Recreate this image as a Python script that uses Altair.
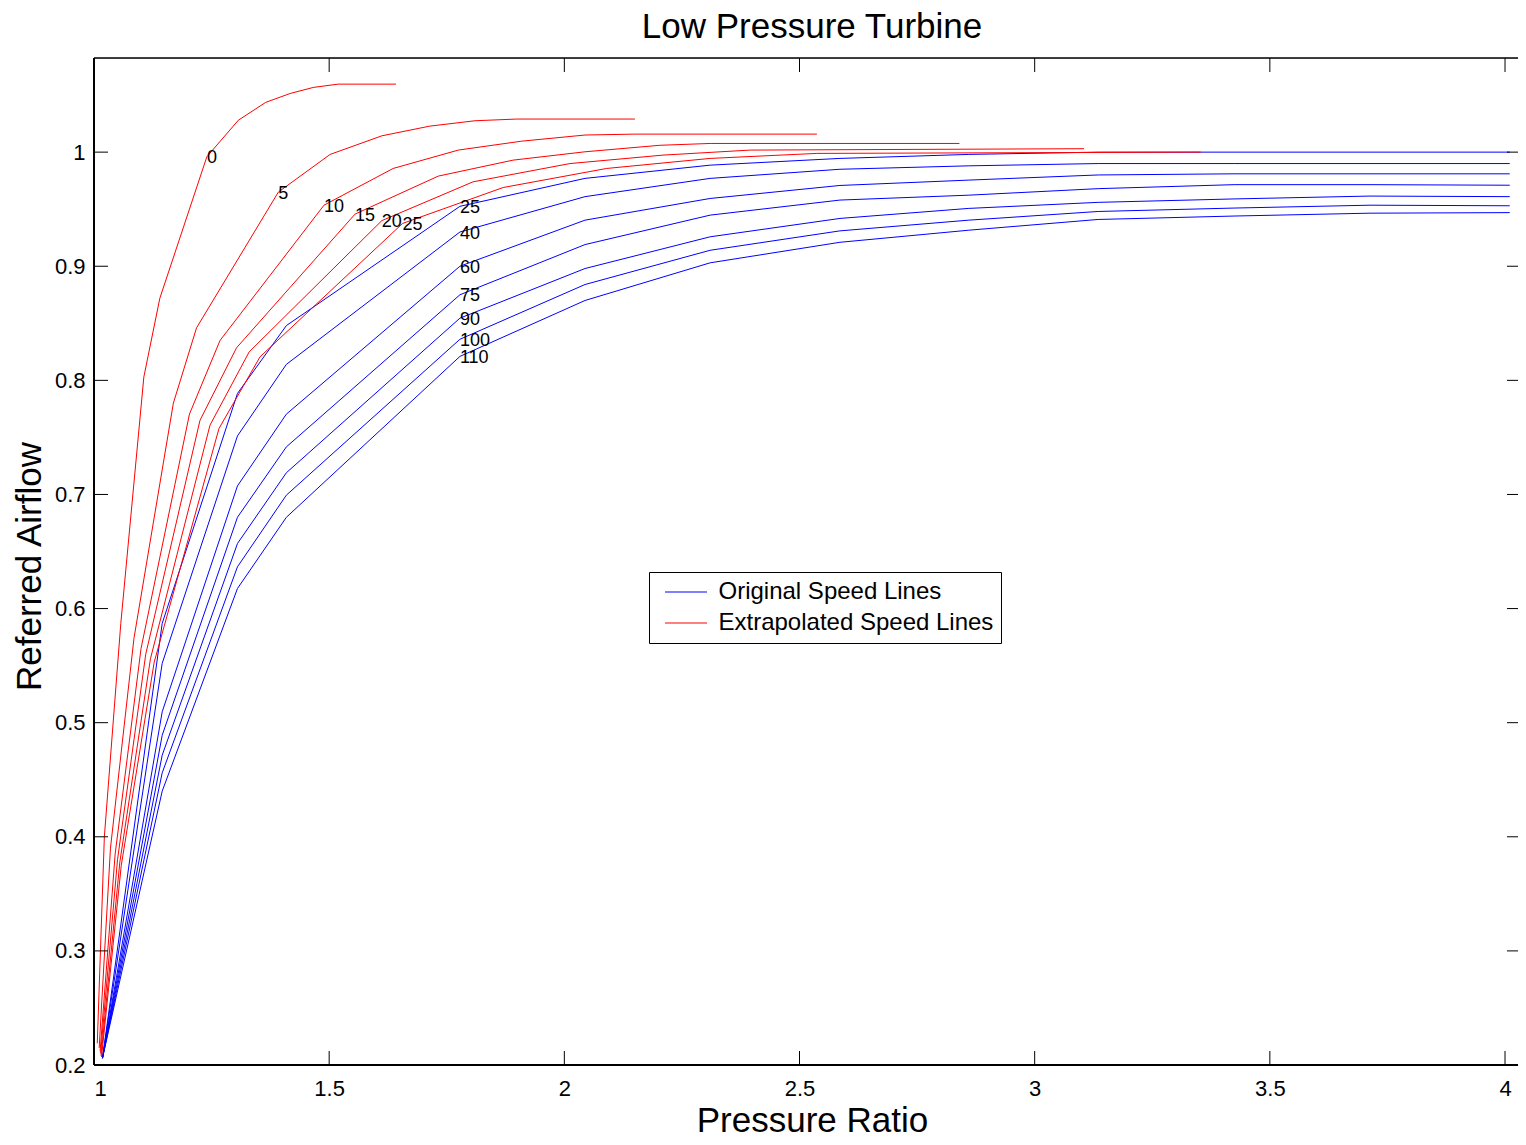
import altair as alt
import pandas as pd

FONT = "Liberation Sans"

# ---------------- data ----------------
blue_speeds = [25, 40, 60, 75, 90, 100, 110]
blue_pr = [1.018, 1.145, 1.305, 1.409, 1.778, 2.044, 2.31, 2.586, 2.86, 3.135, 3.424, 3.713, 4.01]
blue_flow_25 = [0.206, 0.587, 0.7885, 0.848, 0.9525, 0.977, 0.9886, 0.9945, 0.998, 1.0, 1.0, 1.0, 1.0]
blue_flow_40 = [0.206, 0.552, 0.7513, 0.814, 0.930, 0.961, 0.977, 0.985, 0.988, 0.990, 0.990, 0.990, 0.990]
blue_flow_60 = [0.206, 0.5095, 0.7075, 0.7704, 0.900, 0.9404, 0.9594, 0.9708, 0.9755, 0.980, 0.981, 0.981, 0.981]
blue_flow_75 = [0.206, 0.489, 0.680, 0.7417, 0.875, 0.919, 0.9448, 0.958, 0.9623, 0.968, 0.9715, 0.9715, 0.971]
blue_flow_90 = [0.206, 0.4715, 0.657, 0.719, 0.8545, 0.898, 0.9258, 0.9419, 0.9507, 0.956, 0.959, 0.9615, 0.961]
blue_flow_100 = [0.206, 0.456, 0.6366, 0.6994, 0.836, 0.884, 0.914, 0.931, 0.9404, 0.948, 0.951, 0.9535, 0.953]
blue_flow_110 = [0.206, 0.440, 0.6176, 0.680, 0.821, 0.870, 0.903, 0.921, 0.9316, 0.941, 0.944, 0.9465, 0.947]
blue_label_point = 4

red_speeds = [0, 5, 10, 15, 20, 25]
red_pr_0 = [1.007, 1.022, 1.057, 1.106, 1.140, 1.240, 1.307, 1.365, 1.417, 1.466, 1.519, 1.642]
red_flow_0 = [0.219, 0.40, 0.587, 0.803, 0.872, 0.996, 1.028, 1.0436, 1.0514, 1.0567, 1.0596, 1.0596]
red_pr_5 = [1.011, 1.035, 1.085, 1.1687, 1.218, 1.392, 1.502, 1.612, 1.714, 1.81, 1.899, 2.15]
red_flow_5 = [0.215, 0.39, 0.574, 0.780, 0.846, 0.965, 0.998, 1.0143, 1.0228, 1.0275, 1.029, 1.029]
red_pr_10 = [1.013, 1.045, 1.100, 1.203, 1.268, 1.489, 1.636, 1.7746, 1.909, 2.044, 2.15, 2.537]
red_flow_10 = [0.212, 0.385, 0.565, 0.7705, 0.835, 0.9535, 0.9857, 1.0018, 1.0096, 1.015, 1.0158, 1.0158]
red_pr_15 = [1.014, 1.050, 1.110, 1.2254, 1.303, 1.555, 1.732, 1.891, 2.044, 2.203, 2.31, 2.84]
red_flow_15 = [0.210, 0.38, 0.560, 0.765, 0.8285, 0.9457, 0.979, 0.993, 1.0003, 1.006, 1.0076, 1.0076]
red_pr_20 = [1.015, 1.055, 1.120, 1.2466, 1.330, 1.612, 1.806, 2.012, 2.21, 2.395, 3.105]
red_flow_20 = [0.208, 0.378, 0.556, 0.7607, 0.825, 0.940, 0.974, 0.990, 0.9974, 1.0018, 1.003]
red_pr_25 = [1.016, 1.058, 1.128, 1.2657, 1.353, 1.656, 1.870, 2.09, 2.31, 2.537, 3.353]
red_flow_25 = [0.207, 0.375, 0.553, 0.7578, 0.8206, 0.9375, 0.969, 0.9857, 0.9945, 0.9989, 1.0]
red_label_point = 5

x_ticks = [1, 1.5, 2, 2.5, 3, 3.5, 4]
y_ticks = [0.2, 0.3, 0.4, 0.5, 0.6, 0.7, 0.8, 0.9, 1.0]

TITLE = "Low Pressure Turbine"
ORIG = "Original Speed Lines"
EXTR = "Extrapolated Speed Lines"

blue_flows = [blue_flow_25, blue_flow_40, blue_flow_60, blue_flow_75,
              blue_flow_90, blue_flow_100, blue_flow_110]
red_prs = [red_pr_0, red_pr_5, red_pr_10, red_pr_15, red_pr_20, red_pr_25]
red_flows = [red_flow_0, red_flow_5, red_flow_10, red_flow_15, red_flow_20, red_flow_25]

rows, labels = [], []
for s, fl in zip(blue_speeds, blue_flows):
    for i, (p, f) in enumerate(zip(blue_pr, fl)):
        rows.append({"type": ORIG, "line": f"b{s}", "order": i, "pr": p, "flow": f})
    labels.append({"txt": str(s), "pr": blue_pr[blue_label_point], "flow": fl[blue_label_point]})
for s, pr, fl in zip(red_speeds, red_prs, red_flows):
    for i, (p, f) in enumerate(zip(pr, fl)):
        rows.append({"type": EXTR, "line": f"r{s}", "order": i, "pr": p, "flow": f})
    labels.append({"txt": str(s), "pr": pr[red_label_point], "flow": fl[red_label_point]})

df = pd.DataFrame(rows)
lab = pd.DataFrame(labels)
xt = pd.DataFrame({"pr": x_ticks})
yt = pd.DataFrame({"flow": y_ticks})

W, H = 1424, 1007
xs = alt.Scale(domain=[1, 4.0276], nice=False, zero=False)
ys = alt.Scale(domain=[0.2, 1.0825], nice=False, zero=False)

AX = alt.Axis(values=x_ticks, format="~g", ticks=False, tickSize=0, domain=False, grid=False,
              labelFont=FONT, labelFontSize=22, labelColor="black", labelPadding=13,
              title="Pressure Ratio", titleFont=FONT, titleFontSize=35, titleFontWeight="normal",
              titleColor="black", titleX=718, titleY=66, titleBaseline="alphabetic")
AY = alt.Axis(values=y_ticks, format="~g", ticks=False, tickSize=0, domain=False, grid=False,
              labelFont=FONT, labelFontSize=22, labelColor="black", labelPadding=9,
              title="Referred Airflow", titleFont=FONT, titleFontSize=35, titleFontWeight="normal",
              titleColor="black", titleX=-54, titleY=508, titleBaseline="alphabetic")

X = alt.X("pr:Q", scale=xs, axis=AX, title="Pressure Ratio")
Y = alt.Y("flow:Q", scale=ys, axis=AY, title="Referred Airflow")

lines = alt.Chart(df).mark_line(strokeWidth=1, clip=True).encode(
    x=X, y=Y,
    color=alt.Color("type:N", scale=alt.Scale(domain=[ORIG, EXTR], range=["#0000ff", "#ff0000"]),
                    legend=alt.Legend(orient="none", legendX=555, legendY=514, title=None,
                                      symbolType="M-1.75,0H1.75", symbolSize=576,
                                      symbolStrokeWidth=1, symbolOpacity=1,
                                      labelFont=FONT, labelFontSize=24, labelColor="black",
                                      labelLimit=0, labelOffset=20, padding=7.5, symbolOffset=17,
                                      rowPadding=6, strokeColor="black", fillColor="white")),
    detail="line:N",
    order="order:Q",
)

texts = alt.Chart(lab).mark_text(align="left", baseline="middle", font=FONT, fontSize=18,
                                 color="black", dy=1.5).encode(x=X, y=Y, text="txt:N")

title = alt.Chart(alt.Data(values=[{"t": TITLE}])).mark_text(
    align="center", baseline="alphabetic", font=FONT, fontSize=35, color="black").encode(
    x=alt.value(718), y=alt.value(-20.5), text="t:N")

tick_b = alt.Chart(xt).mark_rule(color="black", strokeWidth=1).encode(
    x=X, y=alt.value(H), y2=alt.value(H - 14))
tick_t = alt.Chart(xt).mark_rule(color="black", strokeWidth=1).encode(
    x=X, y=alt.value(0), y2=alt.value(14))
tick_l = alt.Chart(yt).mark_rule(color="black", strokeWidth=1).encode(
    y=Y, x=alt.value(0), x2=alt.value(14))
tick_r = alt.Chart(yt).mark_rule(color="black", strokeWidth=1).encode(
    y=Y, x=alt.value(W - 11), x2=alt.value(W))

one = alt.Data(values=[{}])
border_top = alt.Chart(one).mark_rule(color="black", strokeWidth=1.5).encode(
    x=alt.value(0), x2=alt.value(W), y=alt.value(0))
border_bottom = alt.Chart(one).mark_rule(color="black", strokeWidth=2).encode(
    x=alt.value(0), x2=alt.value(W), y=alt.value(H))
border_left = alt.Chart(one).mark_rule(color="black", strokeWidth=2).encode(
    x=alt.value(0), y=alt.value(0), y2=alt.value(H))

chart = alt.layer(lines, texts, tick_b, tick_t, tick_l, tick_r,
                  border_top, border_bottom, border_left, title).properties(
    width=W, height=H,
    autosize=alt.AutoSizeParams(type="none"),
    padding={"left": 86, "top": 50, "right": 0, "bottom": 67},
).configure_view(stroke=None).configure(background="white")

chart.save("out.html", embed_options={"renderer": "svg", "actions": False})
